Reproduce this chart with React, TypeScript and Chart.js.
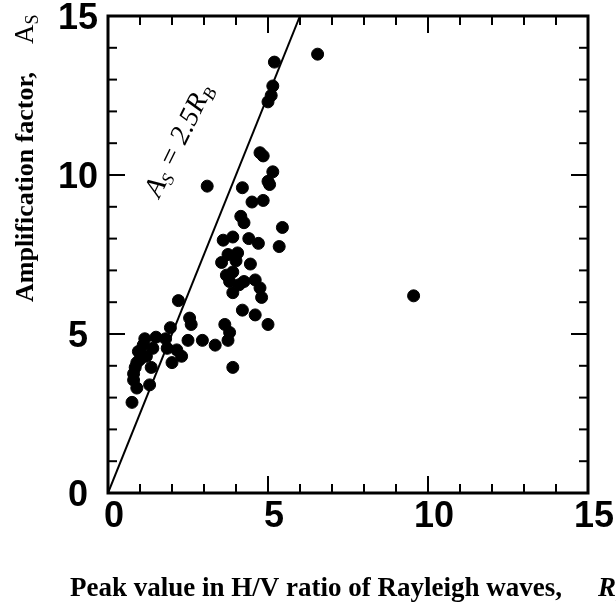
import React, { useEffect, useRef } from "react";
import { Chart, registerables } from "chart.js";

Chart.register(...registerables);

// Peak value in H/V ratio of Rayleigh waves (R_B)
const rbValues = [
  6.55, 5.2, 5.15, 5.1, 5.0,
  3.1,
  4.75, 4.85, 5.15, 5.0, 4.2, 5.05, 4.85, 4.5, 4.15, 4.25, 5.45,
  3.6, 3.9, 4.4, 4.7, 5.35, 3.55, 4.05, 4.45, 3.75, 3.9, 3.8, 4.1, 4.6, 4.75, 4.8, 3.9, 4.2, 4.6, 5.0,
  4.0, 4.25, 3.7,
  2.2, 2.55, 2.6, 1.95, 1.15, 1.5, 1.8, 2.5, 2.95, 3.35, 3.65, 3.8, 3.75, 3.9,
  0.95, 1.4, 1.85, 2.15, 2.3, 2.0, 0.85, 1.35, 0.8, 1.3, 0.9, 0.75, 1.0, 0.8, 1.1, 0.9, 1.2,
  9.55,
];
// Amplification factor (A_S)
const asValues = [
  13.8, 13.55, 12.8, 12.5, 12.3,
  9.65,
  10.7, 10.6, 10.1, 9.8, 9.6, 9.7, 9.2, 9.15, 8.7, 8.5, 8.35,
  7.95, 8.05, 8.0, 7.85, 7.75, 7.25, 7.55, 7.2, 7.5, 6.95, 6.65, 6.55, 6.7, 6.45, 6.15, 6.3, 5.75, 5.6, 5.3,
  7.3, 6.65, 6.85,
  6.05, 5.5, 5.3, 5.2, 4.85, 4.9, 4.85, 4.8, 4.8, 4.65, 5.3, 5.05, 4.8, 3.95,
  4.45, 4.55, 4.55, 4.5, 4.3, 4.1, 3.95, 3.95, 3.55, 3.4, 3.3, 2.85, 4.2, 3.75, 4.65, 4.1, 4.3,
  6.2,
];
// Reference line A_S = 2.5 R_B
const lineX = [0, 6];
const lineY = [0, 15];
const axisMin = 0;
const axisMax = 15;
const majorStep = 5;
const minorStep = 1;

const serif = '"Liberation Serif", "Times New Roman", serif';

const decoPlugin = {
  id: "deco",
  afterDatasetsDraw(chart: any) {
    const { ctx, chartArea: a, scales } = chart;
    const xs = scales.x;
    const ys = scales.y;
    ctx.save();
    ctx.strokeStyle = "#000";
    ctx.fillStyle = "#000";
    ctx.lineCap = "butt";
    ctx.lineWidth = 2;
    const seg = (x1: number, y1: number, x2: number, y2: number) => {
      ctx.beginPath();
      ctx.moveTo(x1, y1);
      ctx.lineTo(x2, y2);
      ctx.stroke();
    };
    for (let v = axisMin + minorStep; v < axisMax; v += minorStep) {
      const major = v % majorStep === 0;
      const len = major ? 17 : 9;
      const px = xs.getPixelForValue(v);
      seg(px, a.bottom, px, a.bottom - len);
      seg(px, a.top, px, a.top + len);
      const py = ys.getPixelForValue(v);
      seg(a.left, py, a.left + len, py);
      seg(a.right, py, a.right - len, py);
    }
    ctx.lineWidth = 3;
    ctx.strokeRect(a.left, a.top, a.right - a.left, a.bottom - a.top);

    // line label
    const lx = xs.getPixelForValue(1.6);
    const ly = ys.getPixelForValue(9.25);
    ctx.save();
    ctx.translate(lx, ly);
    ctx.rotate(-64 * Math.PI / 180);
    ctx.textBaseline = "alphabetic";
    ctx.textAlign = "left";
    let cx = 0;
    ctx.font = `italic 28px ${serif}`;
    ctx.fillText("A", cx, 0);
    cx += ctx.measureText("A").width;
    ctx.font = `italic 18px ${serif}`;
    ctx.fillText("S", cx, 5);
    cx += ctx.measureText("S").width;
    ctx.font = `italic 28px ${serif}`;
    ctx.fillText(" = 2.5R", cx, 0);
    cx += ctx.measureText(" = 2.5R").width;
    ctx.font = `italic 18px ${serif}`;
    ctx.fillText("B", cx, 5);
    ctx.restore();

    // y-axis title
    ctx.save();
    ctx.translate(33, 302);
    ctx.rotate(-Math.PI / 2);
    ctx.textAlign = "left";
    ctx.textBaseline = "alphabetic";
    ctx.font = `bold 26px ${serif}`;
    const yt = "Amplification factor,";
    ctx.fillText(yt, 0, 0);
    ctx.font = `27px ${serif}`;
    const ax = 258;
    ctx.fillText("A", ax, 0);
    const aw = ctx.measureText("A").width;
    ctx.font = `18px ${serif}`;
    ctx.fillText("S", ax + aw, 5);
    ctx.restore();

    // x-axis title
    ctx.save();
    ctx.textAlign = "left";
    ctx.textBaseline = "alphabetic";
    ctx.font = `bold 27px ${serif}`;
    ctx.fillText("Peak value in H/V ratio of Rayleigh waves,", 70, 596);
    ctx.font = `italic bold 27px ${serif}`;
    ctx.fillText("R", 598, 596);
    const rw = ctx.measureText("R").width;
    ctx.font = `italic bold 18px ${serif}`;
    ctx.fillText("B", 598 + rw, 601);
    ctx.restore();

    ctx.restore();
  },
};

export default function App() {
  const ref = useRef<HTMLCanvasElement>(null);
  useEffect(() => {
    if (!ref.current) return;
    const points = rbValues.map((x, i) => ({ x, y: asValues[i] }));
    const linePts = lineX.map((x, i) => ({ x, y: lineY[i] }));
    const tickFont = { family: '"Liberation Sans", Arial, sans-serif', size: 36, weight: "bold" as const, lineHeight: 1.2 };
    const chart = new Chart(ref.current, {
      type: "scatter",
      data: {
        datasets: [
          {
            type: "line" as any,
            data: linePts,
            borderColor: "#000",
            borderWidth: 2,
            pointRadius: 0,
            fill: false,
            showLine: true,
          } as any,
          {
            data: points,
            backgroundColor: "#000",
            borderColor: "#000",
            borderWidth: 1,
            pointRadius: 6,
          },
        ],
      },
      options: {
        responsive: false,
        animation: false,
        events: [],
        layout: { padding: { top: 16, right: 28, left: 0, bottom: 0 } },
        plugins: { legend: { display: false }, tooltip: { enabled: false } },
        scales: {
          x: {
            type: "linear",
            min: axisMin,
            max: axisMax,
            grid: { display: false, drawTicks: false },
            border: { display: false },
            ticks: { stepSize: majorStep, font: tickFont, color: "#000", padding: 2, labelOffset: 6, maxRotation: 0 },
            afterFit: (s: any) => {
              s.height = 111;
              s.paddingLeft = 0;
              s.paddingRight = 0;
            },
          },
          y: {
            type: "linear",
            min: axisMin,
            max: axisMax,
            grid: { display: false, drawTicks: false },
            border: { display: false },
            ticks: { stepSize: majorStep, font: tickFont, color: "#000", padding: 10, labelOffset: 3, crossAlign: "center" },
            afterFit: (s: any) => {
              s.width = 108;
              s.paddingTop = 0;
              s.paddingBottom = 0;
            },
          },
        },
      },
      plugins: [decoPlugin],
    });
    return () => chart.destroy();
  }, []);
  return (
    <div style={{ position: "fixed", left: 0, top: 0, width: 616, height: 604, background: "#fff" }}>
      <canvas ref={ref} width={616} height={604} />
    </div>
  );
}
